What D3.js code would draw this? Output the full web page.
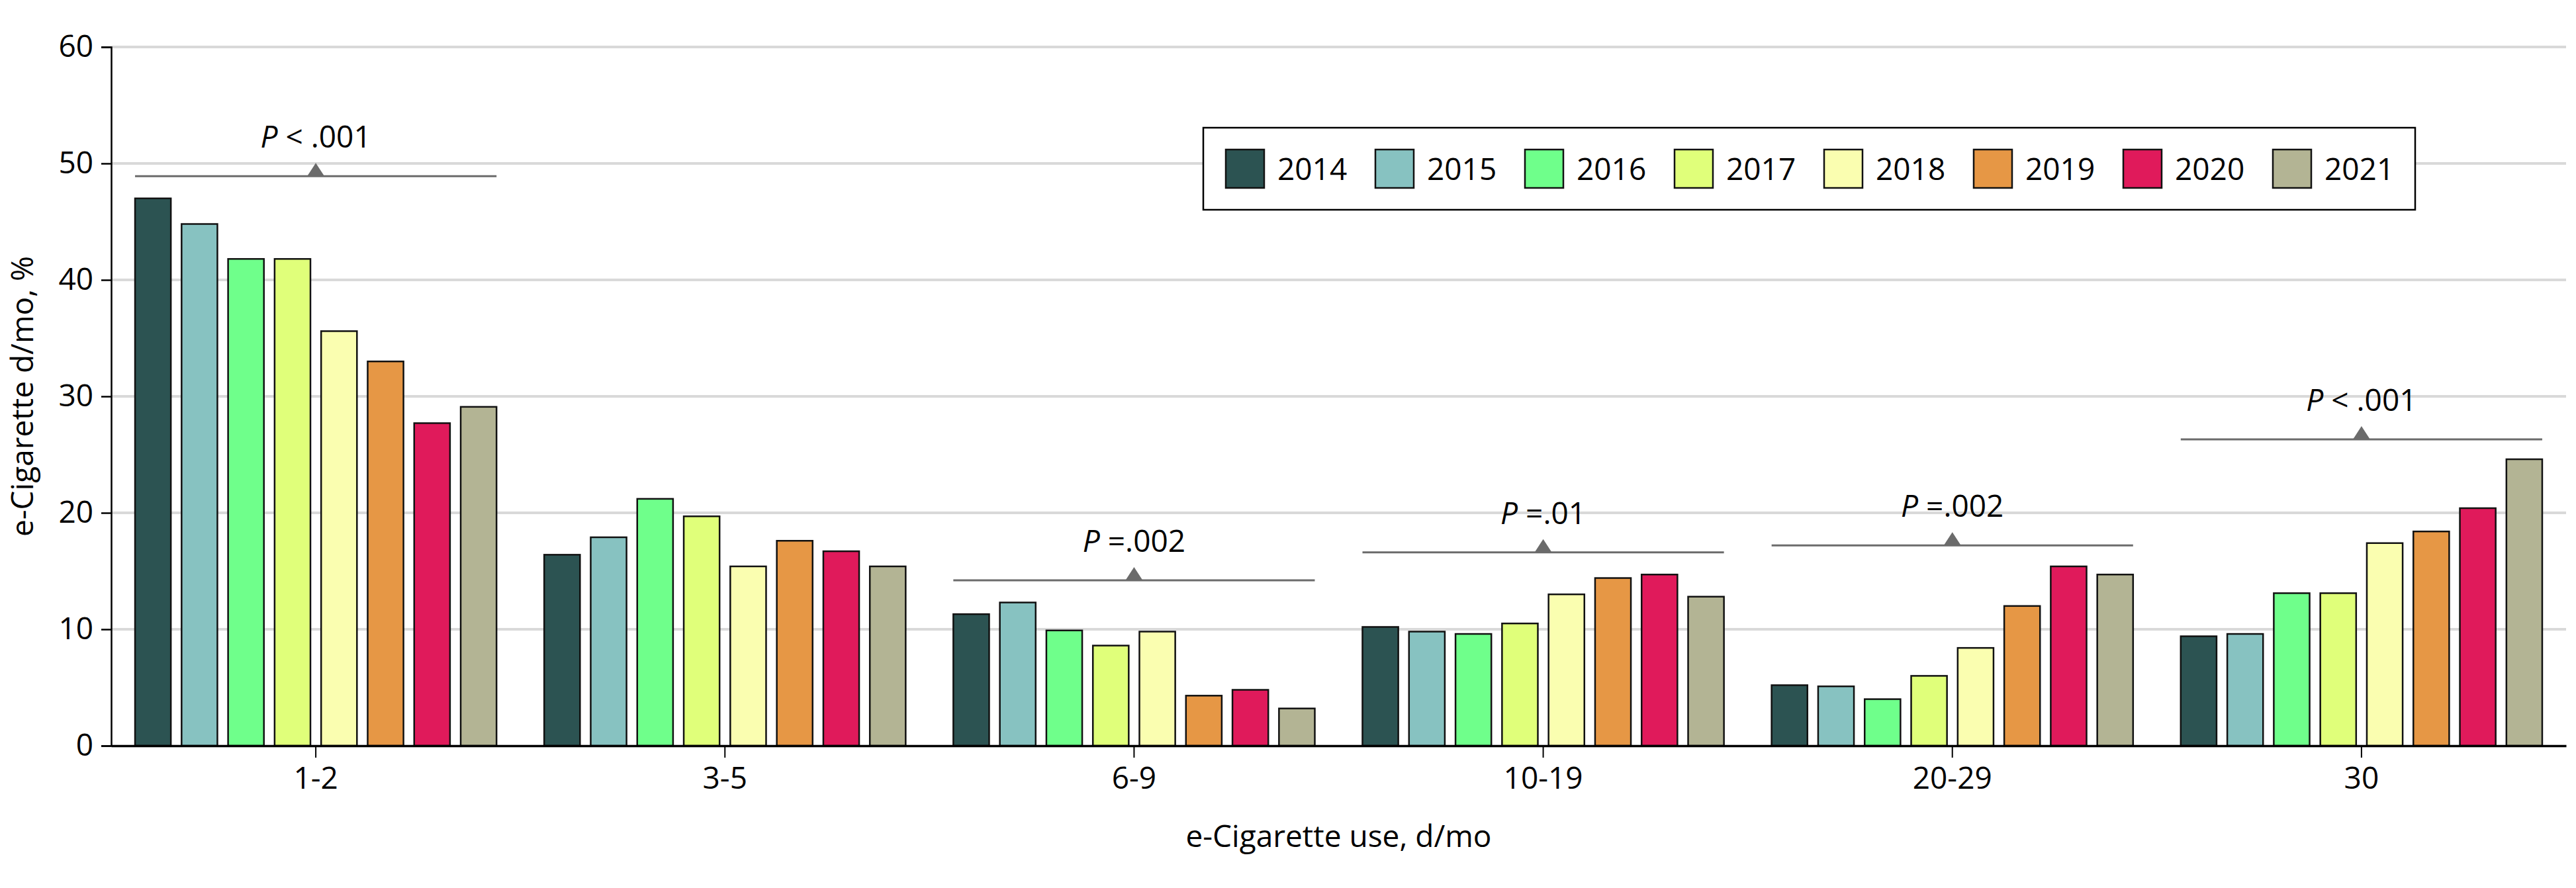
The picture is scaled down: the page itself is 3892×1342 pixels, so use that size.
<!DOCTYPE html>
<html>
<head>
<meta charset="utf-8">
<script src="https://cdn.jsdelivr.net/npm/d3@7"></script>
<style>
  html, body { margin: 0; padding: 0; background: #fff; }
  svg { display: block; }
  text { font-family: "Open Sans", "Liberation Sans", sans-serif; }
</style>
</head>
<body>
<svg id="chart" width="3892" height="1342"></svg>
<script>
// ---- data ----
const categories = ["1-2", "3-5", "6-9", "10-19", "20-29", "30"];
const years = ["2014", "2015", "2016", "2017", "2018", "2019", "2020", "2021"];
const v2014 = [47.0, 16.4, 11.3, 10.2, 5.2, 9.4];
const v2015 = [44.8, 17.9, 12.3, 9.8, 5.1, 9.6];
const v2016 = [41.8, 21.2, 9.9, 9.6, 4.0, 13.1];
const v2017 = [41.8, 19.7, 8.6, 10.5, 6.0, 13.1];
const v2018 = [35.6, 15.4, 9.8, 13.0, 8.4, 17.4];
const v2019 = [33.0, 17.6, 4.3, 14.4, 12.0, 18.4];
const v2020 = [27.7, 16.7, 4.8, 14.7, 15.4, 20.4];
const v2021 = [29.1, 15.4, 3.2, 12.8, 14.7, 24.6];
const seriesValues = [v2014, v2015, v2016, v2017, v2018, v2019, v2020, v2021];
const colors = ["#2c5352", "#87c2c1", "#6fff8b", "#e0ff7a", "#fafeb0", "#e69745", "#e01a5b", "#b3b494"];
const yTicks = [0, 10, 20, 30, 40, 50, 60];
// trend-test annotations: category, label, level (in % units)
const pCats = ["1-2", "6-9", "10-19", "20-29", "30"];
const pOps = ["<", "=", "=", "=", "<"];
const pVals = [".001", ".002", ".01", ".002", ".001"];
const pLevels = [48.9, 14.2, 16.6, 17.2, 26.3];

// ---- layout ----
const svg = d3.select("#chart");
const mLeft = 168, mRight = 3877, mTop = 71, mBottom = 1127;
const FS = 46;

const y = d3.scaleLinear().domain([0, 60]).range([mBottom, mTop]);
const x0 = d3.scaleBand().domain(categories).range([mLeft, mRight])
  .paddingInner(0.1165).paddingOuter(0.0583);
const x1 = d3.scaleBand().domain(years).range([0, x0.bandwidth()]).paddingInner(0.23);
const color = d3.scaleOrdinal().domain(years).range(colors);

// gridlines
svg.append("g").selectAll("line").data(yTicks.filter(d => d > 0)).join("line")
  .attr("x1", mLeft).attr("x2", mRight)
  .attr("y1", d => y(d)).attr("y2", d => y(d))
  .attr("stroke", "#d9d9d9").attr("stroke-width", 4);

// bars
const rows = [];
categories.forEach((c, ci) => years.forEach((yr, yi) => rows.push({ c, yr, v: seriesValues[yi][ci] })));
svg.append("g").selectAll("rect").data(rows).join("rect")
  .attr("x", d => x0(d.c) + x1(d.yr))
  .attr("y", d => y(d.v))
  .attr("width", x1.bandwidth())
  .attr("height", d => y(0) - y(d.v))
  .attr("fill", d => color(d.yr))
  .attr("stroke", "#111").attr("stroke-width", 2.5);

// y axis
const yAxis = svg.append("g").attr("transform", `translate(${mLeft},0)`)
  .call(d3.axisLeft(y).tickValues(yTicks).tickSize(15).tickPadding(12));
yAxis.select(".domain").attr("stroke", "#000").attr("stroke-width", 2.5);
yAxis.selectAll(".tick line").attr("stroke", "#000").attr("stroke-width", 2.5);
yAxis.selectAll(".tick text").attr("font-size", FS).attr("fill", "#000")
  .attr("font-family", '"Open Sans", sans-serif');

// x axis
const xAxis = svg.append("g").attr("transform", `translate(0,${mBottom})`)
  .call(d3.axisBottom(x0).tickSize(18).tickPadding(14).tickSizeOuter(0));
xAxis.select(".domain").attr("stroke", "#000").attr("stroke-width", 3.5);
xAxis.selectAll(".tick line").attr("stroke", "#000").attr("stroke-width", 2);
xAxis.selectAll(".tick text").attr("font-size", FS).attr("fill", "#000")
  .attr("font-family", '"Open Sans", sans-serif');

// axis titles
svg.append("text")
  .attr("x", (mLeft + mRight) / 2).attr("y", 1280)
  .attr("text-anchor", "middle").attr("font-size", FS)
  .text("e-Cigarette use, d/mo");
svg.append("text")
  .attr("transform", `translate(50,${(mTop + mBottom) / 2}) rotate(-90)`)
  .attr("text-anchor", "middle").attr("font-size", FS)
  .text("e-Cigarette d/mo, %");

// P annotations
const ann = svg.append("g");
pCats.forEach((c, i) => {
  const xs1 = x0(c), xs2 = x0(c) + x0.bandwidth();
  const cx = x0(c) + x0.bandwidth() / 2;
  const ly = y(pLevels[i]);
  ann.append("line").attr("x1", xs1).attr("x2", xs2).attr("y1", ly).attr("y2", ly)
    .attr("stroke", "#6b6b6b").attr("stroke-width", 3);
  ann.append("path")
    .attr("d", `M${cx - 13},${ly} L${cx + 13},${ly} L${cx},${ly - 20} Z`)
    .attr("fill", "#6b6b6b");
  const t = ann.append("text").attr("x", cx).attr("y", ly - 43)
    .attr("text-anchor", "middle").attr("font-size", FS);
  t.append("tspan").attr("font-style", "italic").text("P");
  t.append("tspan").text(pOps[i] === "<" ? " < " + pVals[i] : " =" + pVals[i]);
});

// legend
const lg = svg.append("g");
const lgX = 1818, lgY = 193, lgW = 1831, lgH = 124;
lg.append("rect").attr("x", lgX).attr("y", lgY).attr("width", lgW).attr("height", lgH)
  .attr("fill", "#fff").attr("stroke", "#000").attr("stroke-width", 2.5);
const item = lg.selectAll("g.item").data(years).join("g").attr("class", "item")
  .attr("transform", (d, i) => `translate(${1852 + i * 226},226)`);
item.append("rect").attr("width", 58).attr("height", 58)
  .attr("fill", d => color(d)).attr("stroke", "#111").attr("stroke-width", 2.5);
item.append("text").attr("x", 78).attr("y", 46).attr("font-size", FS).text(d => d);
</script>
</body>
</html>
